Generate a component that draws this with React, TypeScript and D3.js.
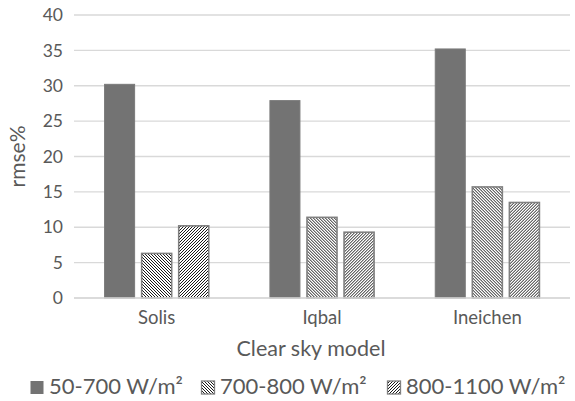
import React from "react";
import * as d3 from "d3";

const categories = ["Solis", "Iqbal", "Ineichen"];
const seriesNames = ["50-700 W/m²", "700-800 W/m²", "800-1100 W/m²"];
const series50to700 = [30.2, 27.9, 35.2];
const series700to800 = [6.3, 11.4, 15.7];
const series800to1100 = [10.2, 9.3, 13.5];
const yTicks = [0, 5, 10, 15, 20, 25, 30, 35, 40];

const W = 575;
const H = 401;
const left = 74;
const right = 570;
const top = 15;
const bottom = 298;
const textColor = "#595959";
const font = "Lato, 'Open Sans', sans-serif";

const fills = ["#737373", "url(#hatchDown)", "url(#hatchUp)"];
const strokes = ["#7a7a7a", "#808080", "#808080"];

export default function App() {
  const values = [series50to700, series700to800, series800to1100];
  const y = d3.scaleLinear().domain([0, 40]).range([bottom, top]);
  const x0 = d3.scaleBand<string>().domain(categories).range([left, right]);
  const bw = x0.bandwidth();
  const groupW = bw * 0.63;
  const x1 = d3
    .scaleBand<string>()
    .domain(seriesNames)
    .range([(bw - groupW) / 2, (bw + groupW) / 2])
    .paddingInner(0.19);

  const legendX = [30, 201, 387];

  return (
    <svg
      width={W}
      height={H}
      style={{ position: "absolute", left: 0, top: 0, background: "#fff" }}
      fontFamily={font}
    >
      <defs>
        <pattern id="hatchDown" patternUnits="userSpaceOnUse" width={3} height={3}>
          <rect width={3} height={3} fill="#fff" />
          <path d="M-1,-1 L4,4 M-1,2 L1,4 M2,-1 L4,1" stroke="#1a1a1a" strokeWidth={1} />
        </pattern>
        <pattern id="hatchUp" patternUnits="userSpaceOnUse" width={3} height={3}>
          <rect width={3} height={3} fill="#fff" />
          <path d="M-1,4 L4,-1 M-1,1 L1,-1 M2,4 L4,2" stroke="#1a1a1a" strokeWidth={1} />
        </pattern>
      </defs>

      {/* horizontal gridlines */}
      {yTicks.map((t) => (
        <line
          key={"g" + t}
          x1={left}
          x2={right}
          y1={y(t)}
          y2={y(t)}
          stroke="#d9d9d9"
          strokeWidth={1.3}
        />
      ))}

      {/* y tick labels */}
      {yTicks.map((t) => (
        <text
          key={"t" + t}
          x={63}
          y={y(t)}
          dy="0.35em"
          textAnchor="end"
          fontSize={17.5}
          fill={textColor}
        >
          {t}
        </text>
      ))}

      {/* bars */}
      {categories.map((c, ci) => (
        <g key={c} transform={`translate(${x0(c)},0)`}>
          {seriesNames.map((s, si) => {
            const v = values[si][ci];
            return (
              <rect
                key={s}
                x={x1(s)}
                y={y(v)}
                width={x1.bandwidth()}
                height={y(0) - y(v)}
                fill={fills[si]}
                stroke={strokes[si]}
                strokeWidth={si === 0 ? 1 : 1.6}
              />
            );
          })}
        </g>
      ))}

      {/* category axis line */}
      <line x1={left} x2={right} y1={y(0)} y2={y(0)} stroke="#d9d9d9" strokeWidth={1.3} />

      {/* category labels */}
      {categories.map((c) => (
        <text
          key={"c" + c}
          x={(x0(c) as number) + bw / 2}
          y={324}
          textAnchor="middle"
          fontSize={18.5}
          fill={textColor}
        >
          {c}
        </text>
      ))}

      {/* axis titles */}
      <text x={(left + right) / 2 - 11} y={356} textAnchor="middle" fontSize={21.5} fill={textColor}>
        Clear sky model
      </text>
      <text
        transform={`translate(25,${(top + bottom) / 2}) rotate(-90)`}
        textAnchor="middle"
        fontSize={21}
        fill={textColor}
      >
        rmse%
      </text>

      {/* legend */}
      {seriesNames.map((s, si) => (
        <g key={"l" + s} transform={`translate(${legendX[si]},0)`}>
          <rect
            x={0.5}
            y={381}
            width={13}
            height={13}
            fill={fills[si]}
            stroke={strokes[si]}
            strokeWidth={si === 0 ? 0 : 1.3}
          />
          <text x={19} y={394} fontSize={22} fill={textColor}>
            {s}
          </text>
        </g>
      ))}
    </svg>
  );
}
